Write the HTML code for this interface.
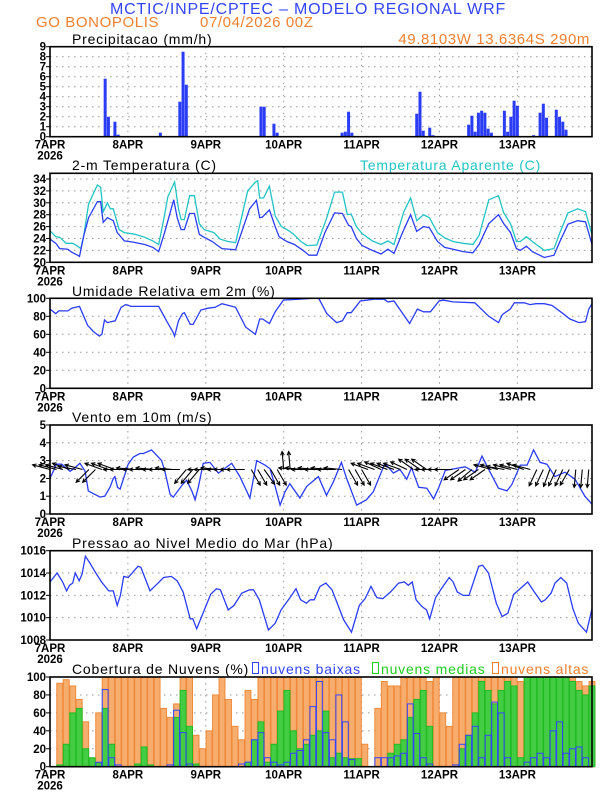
<!DOCTYPE html>
<html><head><meta charset="utf-8"><style>
html,body{margin:0;padding:0;background:#fff;}
svg{display:block;font-family:"Liberation Sans",sans-serif;}
.t{font-size:14px;fill:#000;letter-spacing:0.8px;}
.ax{font-size:11.5px;font-weight:bold;fill:#000;}
</style></head><body>
<svg id="chart" width="612" height="792" viewBox="0 0 612 792" xmlns="http://www.w3.org/2000/svg">
<rect x="0" y="0" width="612" height="792" fill="#fff"/>
<text x="308" y="14" text-anchor="middle" font-size="16" fill="#3344ff" letter-spacing="0.8">MCTIC/INPE/CPTEC – MODELO REGIONAL WRF</text>
<text x="36" y="27" font-size="15" fill="#f08030" letter-spacing="0.6">GO BONOPOLIS</text>
<text x="200" y="27" font-size="15" fill="#f08030" letter-spacing="0.6">07/04/2026 00Z</text>
<text x="590" y="44" text-anchor="end" font-size="15" fill="#f08030" letter-spacing="0.6">49.8103W 13.6364S 290m</text>
<text x="72" y="44" class="t">Precipitacao (mm/h)</text>
<text x="72" y="170" class="t">2-m Temperatura (C)</text>
<text x="360" y="170" class="t" style="fill:#22c4c4">Temperatura Aparente (C)</text>
<text x="72" y="296" class="t">Umidade Relativa em 2m (%)</text>
<text x="72" y="422" class="t">Vento em 10m (m/s)</text>
<text x="72" y="548" class="t">Pressao ao Nivel Medio do Mar (hPa)</text>
<text x="72" y="674" class="t">Cobertura de Nuvens (%)</text>
<rect x="252.5" y="662.5" width="6" height="11" fill="none" stroke="#3344ff"/>
<text x="261" y="674" class="t" style="fill:#3344ff">nuvens baixas</text>
<rect x="372.5" y="662.5" width="6" height="11" fill="none" stroke="#22cc22"/>
<text x="381" y="674" class="t" style="fill:#22cc22">nuvens medias</text>
<rect x="492.5" y="662.5" width="6" height="11" fill="none" stroke="#f08030"/>
<text x="501" y="674" class="t" style="fill:#f08030">nuvens altas</text>
</svg>
<script>
// ---- data ----
const dayLabels=['7APR','8APR','9APR','10APR','11APR','12APR','13APR'];
const precipTicks=[0,1,2,3,4,5,6,7,8,9];
const tempTicks=[20,22,24,26,28,30,32,34];
const rhTicks=[0,20,40,60,80,100];
const windTicks=[0,1,2,3,4,5];
const presTicks=[1008,1010,1012,1014,1016];
const cloudTicks=[0,20,40,60,80,100];

const precipHours=[13,17,18,20,21,34,40,41,42,65,66,69,70,90,91,92,93,113,114,115,117,118,129,130,131,132,133,134,135,136,140,141,142,143,144,149,151,152,153,156,157,158,159];
const precipVals=[0.05,5.8,2.0,1.5,0.2,0.4,3.5,8.5,5.2,3.0,3.0,1.3,0.4,0.4,0.5,2.5,0.4,2.3,4.5,0.6,0.9,0.15,1.2,2.1,0.5,2.4,2.6,2.4,0.8,0.4,2.6,0.5,2.0,3.6,3.1,0.15,2.4,3.3,1.9,2.7,2.0,1.5,0.7];

const tempHours=[0,1.8,3,5.5,6.7,8.5,9.1,10.4,11.9,14.6,15.6,16.4,17.7,19.5,20.7,22.9,25.6,29.2,31.7,33.5,35.3,37.1,38.1,39.2,40.4,41.4,43,44.5,46,47.5,50,51.2,53,57.2,59,61.5,63.6,64.6,65.4,67.6,69.4,70.6,73,75.3,78,79.8,82.2,84.7,87.7,90.1,92,92.8,94.4,96.2,99.3,102,104.1,106,108.6,111.1,113,115.1,116.9,119.4,121.6,124.2,127.3,130.3,132.2,135.2,138.2,139.8,141.9,143.7,144.9,146.8,148.6,152.3,155.3,157.1,159.6,162.6,165,167];
const tempVals=[23.9,23.2,22.3,22.2,21.7,21.2,21.0,24.5,27.5,30.2,30.2,26.7,27.5,27,25,23.6,23.4,23,22.5,21.8,25,28.5,30.5,27.5,25.5,25.5,28.2,28.2,24.7,24.2,23.5,23,22.3,22.1,25,29,30.4,27.5,27.6,28.8,26,24.3,23.5,23,22,21.2,21.2,25,28.3,28.2,26.2,26,24,22.8,22,21.4,22.2,21.5,25,28,25.2,26,25.8,23.5,22.5,22.2,21.8,21.6,23,26.5,28,26.5,25,22.3,22,22.7,21.8,20.8,21.2,23.5,26.4,27,26.8,23];

const appHours=[0,1.8,3,5,7,8.5,9.5,10.4,11.9,14.6,15.6,16.4,17.7,18.6,19.5,21.3,22.9,26.2,29.2,31.7,33.5,35.3,36.3,38.4,39.6,40.4,41.4,43,44.5,46,47.5,50.5,52.4,54.8,57.2,59,60.9,63.3,64,64.6,65.8,67.6,69.4,71.3,73,74.9,77.3,79.2,82.2,85.3,87.7,90.1,91.6,92.8,94.4,96.2,99.3,102,104.1,106,109,111.1,113,115.1,116.9,119.4,121.6,124.2,127.3,130.3,132.2,135.2,138.2,139.8,141.9,143.7,144.9,146.8,148.6,152.3,155.3,157.1,159.6,162.6,165,167];
const appVals=[25.3,24.3,24.2,23.2,23.2,22.7,22.3,24.5,29.8,33,32.6,28.5,30,29,29,25.5,25,24.7,24.2,23.6,23,28,31,33.5,29,27.2,27.2,31.2,31.2,26.5,25.5,25,23.9,23.5,23.3,27.5,32,33.5,33.7,30.8,30.8,32.8,27.8,26,25.5,24.8,23.5,22.8,22.9,27.5,31.8,31.8,28,28.1,26,24.8,23.6,23,23.6,23,28.5,30.8,27,28,27.5,25,24.1,23.5,23.2,23,24.5,30.5,31.2,28.3,26.5,23.5,23.5,24.3,23.5,22,22.3,25,28.3,29,28.5,24.6];

const rhHours=[0,1.8,2.7,5.5,6.7,9.1,11.6,13.4,15.2,16,16.8,17.7,20.1,21.9,23.4,25,28,33.5,35.9,37.8,38.4,39.6,40.8,41.4,43.2,44.1,46.5,48.7,50.9,53,57.2,60.3,63.3,64.6,65.5,67.6,69.4,71.9,76.7,80.4,82.8,85.3,88.3,90.1,91.6,92.8,95.6,99.9,102.9,104.1,106,110.8,113.2,115.1,117.2,119.9,121.1,124.2,130.9,135.2,138.2,139.4,141.8,143.1,146.1,147.9,149.7,152.3,154.7,157.7,160.2,163,165,166,167];
const rhVals=[88,83,86,86,89,91,70,63,58,60,76,73,75,90,93,91,91,91,75,63,58,75,83,84,71,71,87,89,90,94,90,68,60,77,77,72,85,98,99,100,100,83,73,75,84,84,97,99,99,96,97,72,88,85,85,97,98,96,95,80,73,82,88,95,95,93,94,94,92,84,77,73,74,88,94];

const windHours=[0,2,3.6,6.2,7.7,9.2,10.8,11.8,15.4,16.9,18.5,19.5,20,20.8,21.6,24.1,25.7,27.7,28.8,31.3,34.4,35.4,37,38,40.6,42.1,43.7,44.7,45.7,47.2,49.3,51.9,56,58.5,61.6,63.7,66.2,67.8,69.3,70.9,72.4,73.9,77,79.1,82.7,85.2,87.3,89.8,91.4,94.5,97.5,99.6,103.2,105.8,107.8,109.9,111.4,113.6,116.1,118.2,119.7,121.8,127.9,131,133.1,135.6,138.2,140.8,142.3,144.9,147,149,151,153.1,155.6,158.7,161.8,164.8,167];
const windVals=[2.0,2.8,2.8,2.4,2.6,2.85,2.4,1.3,0.95,1.0,1.5,2.0,2.1,1.5,1.4,2.8,3.2,3.4,3.4,3.6,3.0,2.4,1.1,0.95,1.6,1.9,1.3,0.8,1.5,2.85,2.9,2.3,2.85,2.1,0.9,3.0,2.75,2.55,1.6,0.5,1.25,1.7,0.9,1.55,2.1,1.05,1.8,2.9,2.0,0.5,0.8,1.25,2.85,2.3,2.5,1.95,2.6,1.5,1.45,0.85,1.45,2.45,2.65,2.35,3.25,2.35,1.45,1.3,1.65,2.75,2.75,3.6,2.9,2.8,2.1,2.35,1.95,1.0,0.55];
// arrow pointing direction (screen degrees), every 2 hours from 0h
const windArrowDir=[195,195,195,200,190,195,135,135,200,200,200,180,180,185,180,180,185,180,180,185,180,130,130,130,180,180,185,180,180,180,180,60,60,55,60,60,265,265,185,185,180,185,180,185,180,185,60,60,60,200,200,205,200,200,200,205,215,215,215,180,180,180,180,145,145,140,145,145,195,195,190,195,195,200,195,115,115,110,115,115,120,95,95,95];

const presHours=[0,2.2,3.9,5.1,6,7,7.8,9,9.9,10.9,12.3,13.9,15.9,18.1,19.5,20.7,21.7,22.7,24.1,27.1,28,30.8,32.6,35,37.4,39.2,41,43.2,44,45.2,49.5,51.3,52.5,54.9,56.7,59.1,61.5,62.7,64.5,67.3,69.4,71.2,74.2,75.8,77.2,79,80.2,81.4,83.2,85,86.9,90.5,92.9,95.3,97.1,98.9,100.7,102.5,104.9,107.4,109.2,110.4,111.6,112.8,114.6,116,117,118.8,120.6,123,124.2,125.5,127.3,129.1,132.1,133.3,135.1,137.5,139.3,141.1,142.9,147.2,149,151.4,152.6,154.4,155.6,157.4,159.2,161.1,162.8,165.3,167];
const presVals=[1013.2,1014.0,1013.2,1012.4,1012.9,1013.1,1014.0,1013.3,1013.9,1015.5,1014.9,1014.1,1013.2,1012.4,1012.4,1011.1,1012.0,1013.7,1013.6,1014.6,1014.5,1012.4,1012.9,1013.6,1013.7,1013.3,1012.3,1009.9,1009.9,1009.0,1012.1,1012.6,1012.5,1010.7,1011.1,1012.2,1012.5,1012.5,1011.6,1008.9,1009.5,1010.7,1011.9,1012.6,1011.6,1011.3,1011.6,1011.6,1012.8,1013.1,1012.5,1009.8,1008.7,1011.1,1011.7,1012.8,1011.8,1011.7,1012.3,1013.1,1013.2,1012.9,1013.2,1011.6,1011.0,1010.7,1009.9,1011.8,1012.6,1013.6,1013.2,1012.3,1012.0,1012.0,1014.6,1014.7,1014.0,1011.3,1010.1,1010.4,1012.1,1013.2,1012.4,1011.4,1011.6,1012.2,1013.1,1013.6,1013.1,1010.8,1009.5,1008.7,1010.8];

// cloud cover every 2 hours from 0h
const cloudHigh=[0,93,97,90,75,50,0,60,100,100,100,100,100,100,100,100,100,65,55,70,100,100,35,20,40,80,100,75,45,30,85,75,100,100,100,100,100,100,100,100,100,100,100,100,100,100,100,100,25,0,65,95,90,90,100,100,100,100,95,100,60,45,100,100,100,100,100,100,100,100,100,100,95,100,100,100,100,100,100,100,100,95,90,95];
const cloudMid=[0,2,25,60,65,20,10,4,65,25,0,0,0,3,22,2,0,0,0,55,85,45,3,0,0,0,0,0,0,0,5,30,50,5,25,62,85,40,20,25,35,40,62,10,15,10,9,9,0,0,0,0,15,25,30,55,75,85,45,0,0,0,0,20,35,60,95,85,70,85,95,90,10,100,100,100,100,100,100,100,95,85,80,90];
const cloudLow=[0,0,0,0,0,0,0,5,86,10,2,0,0,0,0,0,0,0,2,63,38,3,0,0,0,0,0,0,0,3,5,30,38,10,5,2,5,15,18,30,67,95,38,30,80,50,8,0,0,0,10,10,10,12,15,70,37,10,3,0,0,0,2,25,35,45,10,35,72,60,10,0,0,5,10,15,10,40,50,15,20,22,10,0];

// ---- drawing ----
const NS='http://www.w3.org/2000/svg';
const svg=document.getElementById('chart');
const X0=50,X1=592,HMAX=167;
const xs=h=>X0+(X1-X0)*h/HMAX;
function mk(tag,attrs,parent){const e=document.createElementNS(NS,tag);for(const k in attrs)e.setAttribute(k,attrs[k]);(parent||svg).appendChild(e);return e;}
function yScale(p){return v=>p.bottom-(v-p.min)*(p.bottom-p.top)/(p.max-p.min);}

const panels={
 precip:{top:46.7,bottom:136.7,min:0,max:9,ticks:precipTicks},
 temp:{top:173.3,bottom:262.3,min:20,max:34.96,ticks:tempTicks},
 rh:{top:298.3,bottom:388.3,min:0,max:100,ticks:rhTicks},
 wind:{top:425,bottom:514,min:0,max:5,ticks:windTicks},
 pres:{top:550.7,bottom:640,min:1008,max:1016,ticks:presTicks},
 cloud:{top:677,bottom:766.7,min:0,max:100,ticks:cloudTicks}
};

function drawAxes(key){
 const p=panels[key],y=yScale(p);
 const g=mk('g',{});
 
 
 p.ticks.forEach(t=>{
  const gl=mk('line',{x1:X0,x2:X1,y1:y(t),y2:y(t),stroke:'#999','stroke-width':1,'stroke-dasharray':'1.5,4.5'},g);
  
  
  const tk=mk('line',{x1:X0-4,x2:X0,y1:y(t),y2:y(t),stroke:'#000','stroke-width':1},g);
  
  
  const tl=mk('text',{x:X0-4,y:y(t)+4,'text-anchor':'end','class':'ax'},g);
  tl.textContent=t;
  
  
 });
 dayLabels.forEach((d,i)=>{
  const x=xs(i*24);
  if(i>0){
   const vg=mk('line',{x1:x,x2:x,y1:p.top,y2:p.bottom,stroke:'#999','stroke-width':1,'stroke-dasharray':'1.5,4.5'},g);
   
   
  }
  const dl=mk('text',{x:x,y:p.bottom+12,'text-anchor':'middle','class':'ax'},g);
  dl.textContent=d;
  
  
 });
 const yr=mk('text',{x:xs(0),y:p.bottom+23,'text-anchor':'middle','class':'ax'},g);
 yr.textContent='2026';
 
 
 return y;
}
function drawFrame(key){
 const p=panels[key];
 const r=mk('rect',{x:X0,y:p.top,width:X1-X0,height:p.bottom-p.top,fill:'none',stroke:'#000','stroke-width':1.6});
 
 
}
function drawLine(key,hours,vals,color,name){
 const y=yScale(panels[key]);
 const pts=hours.map((h,i)=>xs(h).toFixed(1)+','+y(vals[i]).toFixed(1)).join(' ');
 const l=mk('polyline',{points:pts,fill:'none',stroke:color,'stroke-width':1.3});
 
 
}

// precip
let yP=drawAxes('precip');
precipHours.forEach((h,i)=>{
 const b=mk('rect',{x:xs(h)-1.5,y:yP(precipVals[i]),width:3,height:yP(0)-yP(precipVals[i]),fill:'#2b3cf5'});
 
 
});
drawFrame('precip');

// temperature
drawAxes('temp');
drawLine('temp',appHours,appVals,'#22c4c4','apparent-temp-line');
drawLine('temp',tempHours,tempVals,'#2b3cf5','temp-line');
drawFrame('temp');

// RH
drawAxes('rh');
drawLine('rh',rhHours,rhVals,'#2b3cf5','rh-line');
drawFrame('rh');

// wind
let yW=drawAxes('wind');
drawLine('wind',windHours,windVals,'#2b3cf5','wind-speed-line');
windArrowDir.forEach((d,i)=>{
 const x=xs(i*2),y0=yW(2.5),L=18,a=d*Math.PI/180;
 const x2=x+L*Math.cos(a),y2=y0+L*Math.sin(a);
 const g=mk('g',{});
 
 
 mk('line',{x1:x,y1:y0,x2:x2,y2:y2,stroke:'#000','stroke-width':1.1},g);
 const h1=a+Math.PI*0.85,h2=a-Math.PI*0.85;
 mk('polyline',{points:`${x2+4*Math.cos(h1)},${y2+4*Math.sin(h1)} ${x2},${y2} ${x2+4*Math.cos(h2)},${y2+4*Math.sin(h2)}`,fill:'none',stroke:'#000','stroke-width':1.1},g);
});
drawFrame('wind');

// pressure
drawAxes('pres');
drawLine('pres',presHours,presVals,'#2b3cf5','pressure-line');
drawFrame('pres');

// clouds
let yC=drawAxes('cloud');
function cloudBars(vals,fill,stroke,name){
 vals.forEach((v,i)=>{
  if(v<=0)return;
  const x=xs(i*2)+0.3,w=xs(2)-xs(0)-0.6;
  const b=mk('rect',{x:x,y:yC(v),width:w,height:yC(0)-yC(v),fill:fill,stroke:stroke,'stroke-width':1});
  
  
 });
}
cloudBars(cloudHigh,'#f7ad6e','#f08a3a','cloud-high-bar');
cloudBars(cloudMid,'#44cc44','#22bb22','cloud-mid-bar');
cloudBars(cloudLow,'none','#3344ff','cloud-low-bar');
drawFrame('cloud');
</script>
</body></html>
